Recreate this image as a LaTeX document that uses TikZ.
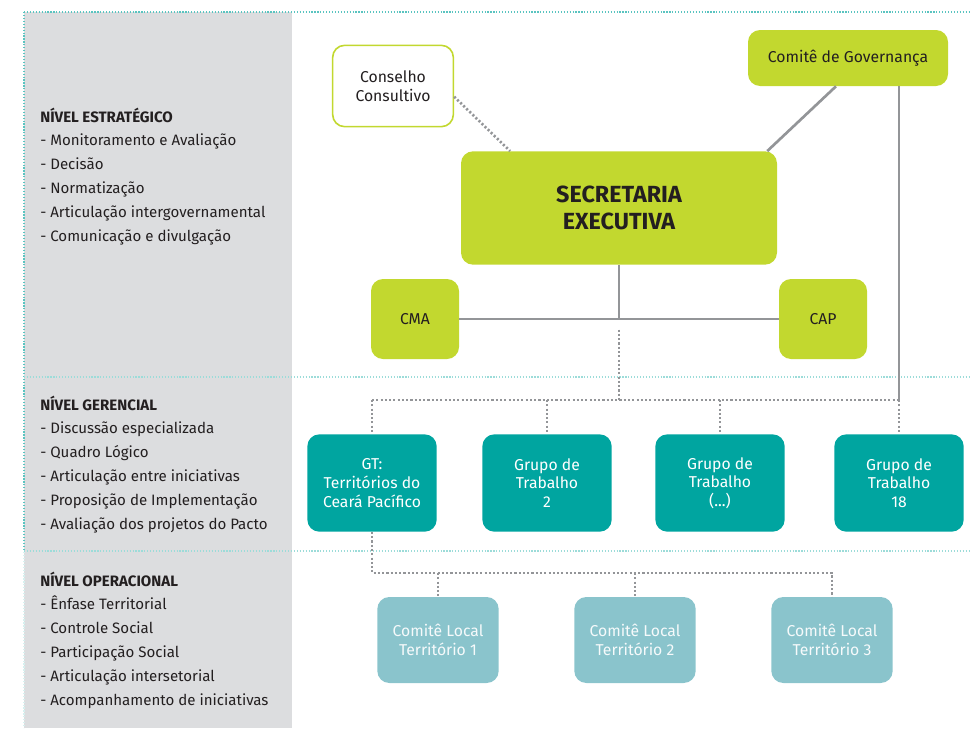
\documentclass[tikz,border=0pt]{standalone}
\usepackage{fontspec}
\setmainfont{Fira Sans}
\definecolor{lime}{RGB}{194,216,47}
\definecolor{teal2}{RGB}{0,165,160}
\definecolor{lblue}{RGB}{138,196,204}
\definecolor{panel}{RGB}{220,221,223}
\definecolor{conn}{RGB}{147,149,152}
\definecolor{dotteal}{RGB}{90,196,192}
\definecolor{ink}{RGB}{35,31,32}
\begin{document}
\begin{tikzpicture}[x=0.75pt,y=-0.75pt,
  lab/.style={font=\fontsize{11.3}{13}\selectfont, text=ink, inner sep=0pt},
  box/.style={rounded corners=9pt, align=center, inner sep=2pt,
    font=\fontsize{11.8}{14}\selectfont},
  greenbox/.style={box, fill=lime, text=ink},
  whitebox/.style={box, fill=white, draw=lime, line width=1.2pt, text=ink},
  gtbox/.style={box, fill=teal2, text=white, minimum width=97pt, minimum height=73pt},
  clbox/.style={box, fill=lblue, text=white!92!lblue, minimum width=91pt, minimum height=64.5pt},
  solidc/.style={draw=conn, line width=2pt},
  dotc/.style={draw=conn, line width=2pt, dash pattern=on 1.6pt off 1.6pt},
  border/.style={draw=dotteal, line width=0.9pt, dash pattern=on 0.9pt off 1.3pt},
  sep/.style={draw=dotteal!60, line width=0.9pt, dash pattern=on 0.9pt off 1.3pt},
  faint/.style={draw=dotteal!25, line width=0.9pt, dash pattern=on 0.9pt off 1.3pt}]
\useasboundingbox (0,0) rectangle (970,728);
\fill[panel] (24,12) rectangle (292,728);
\draw[border] (24,12) -- (970,12);
\draw[border] (24,12) -- (24,552);
\draw[faint] (24,552) -- (24,728);
\draw[sep] (24,377) -- (970,377);
\draw[sep] (24,551) -- (970,551);

% left texts
\node[lab, anchor=base west] (e0) at (40,122) {\textbf{NÍVEL ESTRATÉGICO}};
\foreach \t [count=\i] in {Monitoramento e Avaliação, Decisão, Normatização, Articulação intergovernamental, Comunicação e divulgação}
  \node[lab, anchor=base west] (e\i) at (40,122+23.8*\i) {- \t};
\node[lab, anchor=base west] (g0) at (40,410) {\textbf{NÍVEL GERENCIAL}};
\foreach \t [count=\i] in {Discussão especializada, Quadro Lógico, Articulação entre iniciativas, Proposição de Implementação, Avaliação dos projetos do Pacto}
  \node[lab, anchor=base west] (g\i) at (40,410+23.8*\i) {- \t};
\node[lab, anchor=base west] (o0) at (40,586) {\textbf{NÍVEL OPERACIONAL}};
\foreach \t [count=\i] in {Ênfase Territorial, Controle Social, Participação Social, Articulação intersetorial, Acompanhamento de iniciativas}
  \node[lab, anchor=base west] (o\i) at (40,586+23.8*\i) {- \t};

% top nodes
\node[whitebox, minimum width=90.5pt, minimum height=61pt] (cc) at (393,86) {Conselho\\Consultivo};
\node[greenbox, minimum width=150pt, minimum height=42pt] (cg) at (848,58) {Comitê de Governança};
\node[greenbox, minimum width=237pt, minimum height=85pt, font=\fontsize{17.5}{20}\selectfont\bfseries] (sec) at (619,208) {SECRETARIA\\EXECUTIVA};
\node[greenbox, minimum width=66pt, minimum height=60pt] (cma) at (415,319) {CMA};
\node[greenbox, minimum width=66pt, minimum height=60pt] (cap) at (823,319) {CAP};

% working groups
\node[gtbox] (gt1) at (372,483) {GT:\\Territórios do\\Ceará Pacífico};
\node[gtbox] (gt2) at (547,483) {Grupo de\\Trabalho\\2};
\node[gtbox] (gt3) at (720,483) {Grupo de\\Trabalho\\(...)};
\node[gtbox] (gt4) at (899,483) {Grupo de\\Trabalho\\18};

% local committees
\node[clbox] (cl1) at (438,640) {Comitê Local\\Território 1};
\node[clbox] (cl2) at (635,640) {Comitê Local\\Território 2};
\node[clbox] (cl3) at (832,640) {Comitê Local\\Território 3};

% connectors
\draw[dotc] ([yshift=-8pt]cc.east) -- ([xshift=37pt]sec.north west);
\draw[solidc] ([xshift=-9pt]cg.south) -- ([xshift=-7.5pt]sec.north east);
\coordinate (busr) at (gt4.north |- 0,400);
\coordinate (busl) at (gt1.north |- 0,400);
\coordinate (hub) at (sec.south |- cma.east);
\coordinate (hubd) at (sec.south |- 0,400);
\draw[solidc] (cg.south -| busr) -- (busr);
\draw[solidc] (sec.south) -- (hub);
\draw[solidc] (cma.east) -- (cap.west);
\draw[dotc] ([yshift=-8pt]hub) -- (hubd);
\draw[dotc] (busl) -- (busr);
\draw[dotc] (busl) -- (gt1.north);
\draw[dotc] (gt2.north |- busl) -- (gt2.north);
\draw[dotc] (gt3.north |- busl) -- (gt3.north);
\draw[dotc] (busr) -- (gt4.north);
\coordinate (lbl) at (gt1.south |- 0,573);
\coordinate (lbr) at (cl3.north |- 0,573);
\draw[dotc] (gt1.south) -- (lbl) -- (lbr) -- (cl3.north);
\draw[dotc] (cl1.north |- lbl) -- (cl1.north);
\draw[dotc] (cl2.north |- lbl) -- (cl2.north);
\end{tikzpicture}
\end{document}
